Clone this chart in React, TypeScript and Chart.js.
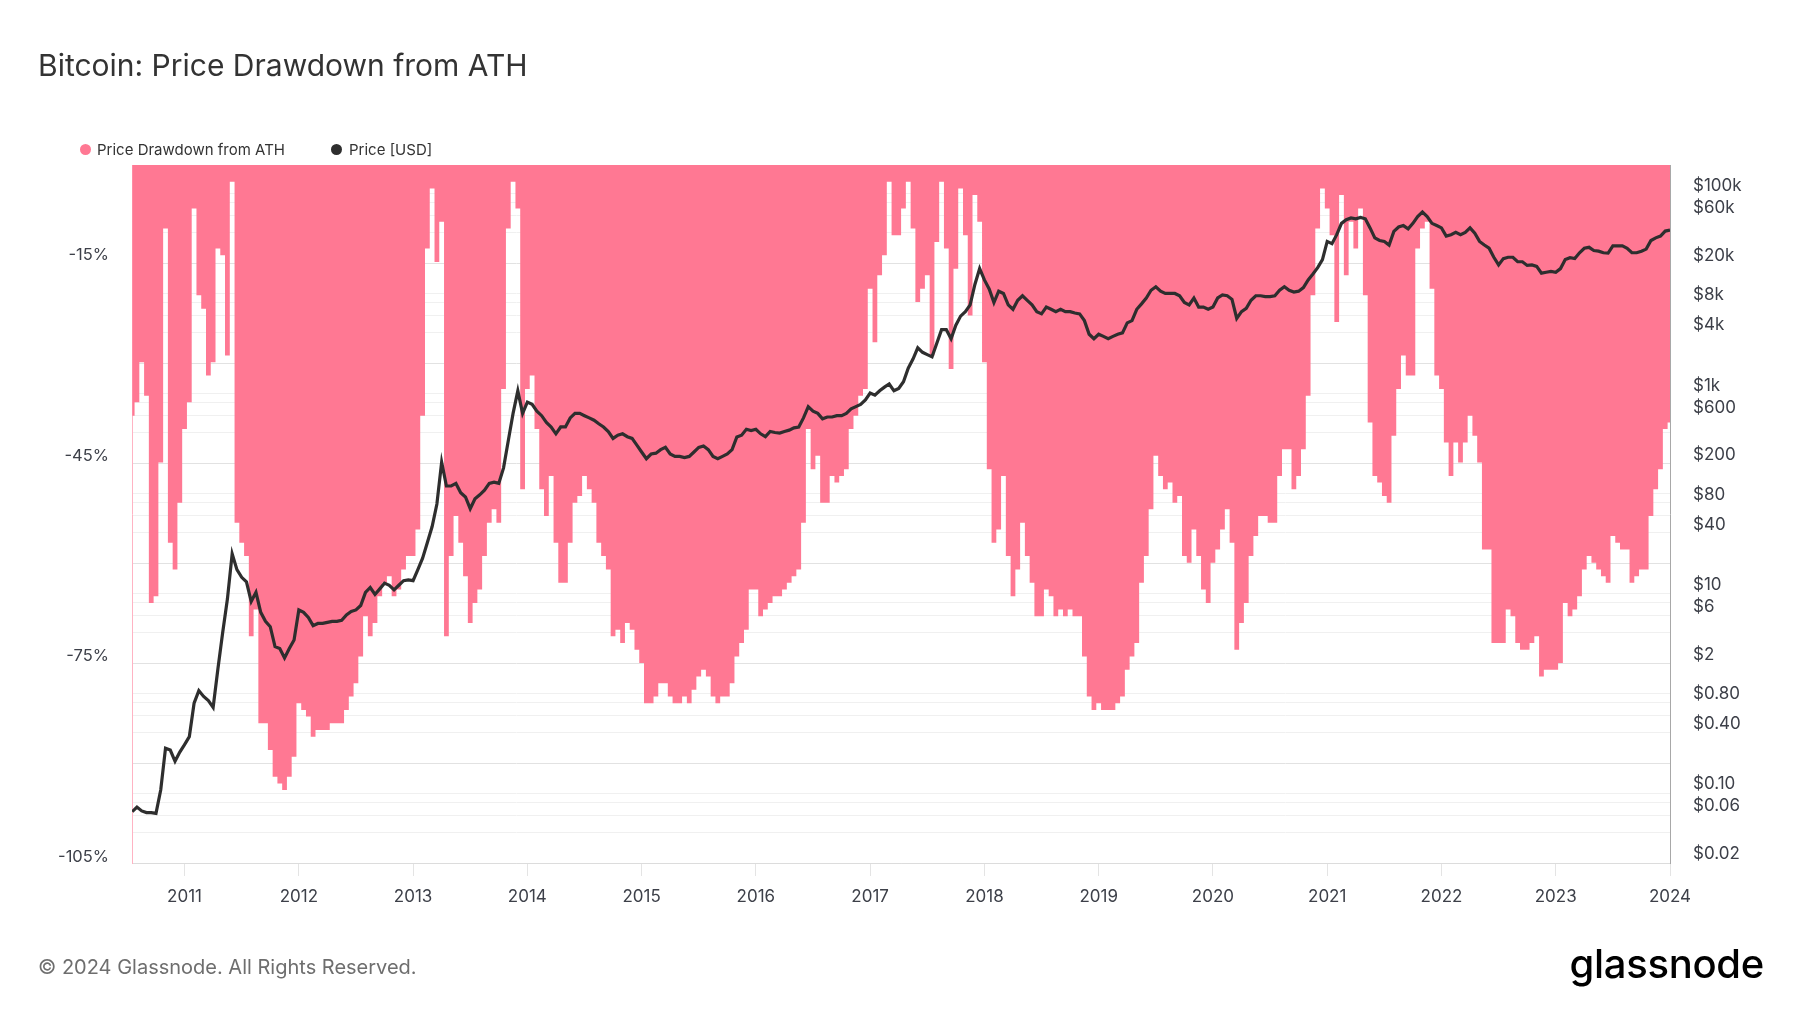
import React, { useEffect, useRef } from "react";
import { Chart, registerables } from "chart.js";

Chart.register(...registerables);

// Half-month samples: slot i of a year sits at year + i / 24.
// 2010 starts at slot 13 (late July), 2024 holds only Jan 1.
const dd2010 = [-39, -37, -31, -36, -67, -66, -46, -11, -58, -62, -52];
const dd2011 = [-41, -37, -8, -21, -23, -33, -31, -14, -15, -30, -4, -55, -58, -60, -72, -68, -85, -85, -89, -93, -94, -95, -93, -90];
const dd2012 = [-82, -83, -84, -87, -86, -86, -86, -85, -85, -85, -83, -81, -79, -75, -69, -72, -70, -66, -64, -63, -66, -65, -62, -60];
const dd2013 = [-60, -56, -39, -14, -5, -16, -10, -72, -60, -54, -58, -63, -70, -67, -65, -60, -55, -53, -55, -35, -11, -4, -8, -50];
const dd2014 = [-35, -33, -41, -50, -54, -48, -58, -64, -64, -58, -52, -51, -48, -50, -52, -58, -60, -62, -72, -71, -73, -70, -71, -74];
const dd2015 = [-76, -82, -82, -81, -79, -79, -81, -82, -82, -81, -82, -80, -78, -77, -78, -81, -82, -81, -81, -79, -75, -73, -71, -65];
const dd2016 = [-65, -69, -68, -67, -66, -66, -65, -64, -63, -62, -55, -41, -47, -45, -52, -52, -48, -49, -48, -47, -41, -39, -36, -35];
const dd2017 = [-20, -28, -18, -15, -4, -12, -12, -8, -4, -11, -22, -20, -18, -30, -13, -4, -14, -32, -17, -5, -12, -24, -6, -10];
const dd2018 = [-31, -47, -58, -56, -48, -60, -66, -62, -55, -60, -64, -69, -69, -65, -66, -69, -68, -69, -68, -69, -69, -75, -81, -83];
const dd2019 = [-82, -83, -83, -83, -82, -81, -77, -75, -73, -64, -60, -53, -45, -48, -50, -49, -52, -51, -60, -61, -56, -60, -65, -67];
const dd2020 = [-61, -59, -56, -53, -58, -74, -70, -67, -60, -57, -54, -54, -55, -55, -48, -44, -44, -50, -48, -44, -36, -21, -11, -5];
const dd2021 = [-8, -12, -25, -6, -18, -10, -14, -8, -21, -40, -48, -49, -51, -52, -42, -35, -30, -33, -33, -14, -11, -10, -20, -33];
const dd2022 = [-35, -43, -48, -43, -46, -43, -39, -42, -46, -59, -59, -73, -73, -73, -68, -69, -73, -74, -74, -73, -72, -78, -77, -77];
const dd2023 = [-77, -76, -67, -69, -68, -66, -62, -60, -61, -62, -63, -64, -57, -58, -59, -59, -64, -63, -62, -62, -54, -50, -47, -41];
const dd2024 = [-40];

const px2010 = [0.053, 0.059, 0.054, 0.052, 0.052, 0.051, 0.088, 0.23, 0.22, 0.17, 0.21];
const px2011 = [0.25, 0.3, 0.65, 0.87, 0.76, 0.69, 0.59, 1.43, 3.3, 7.2, 20.5, 14.2, 11.9, 10.7, 6.8, 8.4, 5.3, 4.3, 3.8, 2.4, 2.3, 1.85, 2.3, 2.8];
const px2012 = [5.6, 5.3, 4.7, 3.9, 4.1, 4.1, 4.2, 4.3, 4.3, 4.4, 5.0, 5.4, 5.6, 6.2, 8.4, 9.4, 8.0, 9.1, 10.4, 9.9, 8.9, 9.9, 11, 11.2];
const px2013 = [11, 14.2, 18.5, 26.6, 38.4, 64.7, 170, 98, 98, 104, 84, 76, 58, 73, 80, 89, 104, 107, 104, 149, 280, 524, 883, 524];
const px2014 = [680, 646, 552, 497, 425, 383, 327, 383, 383, 472, 524, 524, 497, 472, 448, 412, 383, 345, 294, 317, 327, 306, 294, 252];
const px2015 = [215, 184, 205, 209, 227, 239, 205, 194, 194, 189, 194, 215, 239, 247, 227, 194, 184, 194, 205, 227, 304, 317, 363, 352];
const px2016 = [363, 327, 306, 345, 337, 333, 345, 356, 375, 383, 472, 612, 552, 524, 462, 482, 482, 497, 497, 524, 581, 612, 646, 716];
const px2017 = [838, 798, 883, 960, 1033, 883, 931, 1089, 1489, 1836, 2383, 2148, 2038, 1935, 2648, 3622, 3622, 2938, 4018, 4955, 5495, 6427, 10300, 14850];
const px2018 = [11430, 9270, 6780, 8810, 8360, 6427, 5800, 7140, 7930, 7140, 6427, 5495, 5220, 6110, 5800, 5495, 5800, 5495, 5495, 5320, 5220, 4467, 3260, 2938];
const px2019 = [3260, 3100, 2938, 3100, 3260, 3365, 4236, 4467, 5800, 6577, 7530, 9000, 9770, 8810, 8360, 8360, 8360, 7930, 6780, 6427, 7530, 6110, 6110, 5800];
const px2020 = [6110, 7530, 8090, 7930, 7300, 4700, 5495, 5920, 7140, 7930, 7930, 7770, 7770, 7930, 9000, 9770, 9000, 8630, 8810, 9570, 11430, 13090, 15170, 18280];
const px2021 = [27800, 26370, 32500, 42200, 45900, 47860, 46880, 48400, 46880, 38000, 30200, 28400, 27800, 25570, 35000, 38800, 40100, 37240, 42200, 49430, 54800, 49430, 42200, 40100];
const px2022 = [38000, 31500, 32500, 34250, 32500, 34250, 38000, 33560, 27800, 25570, 23760, 19290, 16150, 18690, 19290, 19290, 17390, 17390, 15970, 16150, 15620, 13370, 13650, 13900];
const px2023 = [13650, 14850, 18280, 19080, 18690, 21400, 23760, 24270, 22550, 22200, 21400, 21200, 25060, 25060, 25060, 23760, 21400, 21400, 22200, 23280, 28400, 30200, 31500, 35300];
const px2024 = [36040];

const yearTicks = [2011, 2012, 2013, 2014, 2015, 2016, 2017, 2018, 2019, 2020, 2021, 2022, 2023, 2024];
const drawdownTicks = [-15, -45, -75, -105];
const priceTicks = [0.02, 0.06, 0.1, 0.4, 0.8, 2, 6, 10, 40, 80, 200, 600, 1000, 4000, 8000, 20000, 60000, 100000];
const gridDecades = [0.01, 0.1, 1, 10, 100, 1000, 10000];
const gridSteps = [1, 2, 3, 4, 5];

const START_YEAR = 2010;
const FIRST_SLOT = 13;
const SLOTS = 24;

const PINK = "#ff7893";
const TEXT = "#3d4049";

const toPoints = (rows: number[][]) =>
  rows.flatMap((values, k) => {
    const first = k === 0 ? FIRST_SLOT : 0;
    return values.map((y, i) => ({ x: START_YEAR + k + (first + i) / SLOTS, y }));
  });

const fmtPrice = (v: number) => {
  if (v >= 1000) return `$${v / 1000}k`;
  if (v >= 1) return `$${v}`;
  return `$${v.toFixed(2)}`;
};

const App = () => {
  const chartRef = useRef<HTMLCanvasElement>(null);

  useEffect(() => {
    if (!chartRef.current) return;

    const ddPoints = toPoints([dd2010, dd2011, dd2012, dd2013, dd2014, dd2015, dd2016, dd2017, dd2018, dd2019, dd2020, dd2021, dd2022, dd2023, dd2024]);
    const pxPoints = toPoints([px2010, px2011, px2012, px2013, px2014, px2015, px2016, px2017, px2018, px2019, px2020, px2021, px2022, px2023, px2024]);
    const gridValues = gridDecades.flatMap((d) => gridSteps.map((s) => +(d * s).toPrecision(3)));

    Chart.defaults.font.family = "Inter";

    const chart = new Chart(chartRef.current, {
      type: "line",
      data: {
        datasets: [
          {
            label: "Price [USD]",
            data: pxPoints,
            yAxisID: "yPx",
            borderColor: "#2e2e2e",
            borderWidth: 3.2,
            pointRadius: 0,
            fill: false,
            order: 0,
          },
          {
            label: "Price Drawdown from ATH",
            data: ddPoints,
            yAxisID: "yDD",
            borderWidth: 0,
            borderColor: "rgba(0,0,0,0)",
            backgroundColor: PINK,
            pointRadius: 0,
            stepped: "middle",
            fill: "end",
            order: 1,
          },
        ],
      },
      options: {
        responsive: false,
        animation: false,
        layout: { padding: { top: 165, left: 0, right: 0, bottom: 0 } },
        plugins: {
          legend: { display: false },
          title: { display: false },
          tooltip: { enabled: false },
        },
        scales: {
          x: {
            type: "linear",
            min: 2010.54,
            max: 2024.0,
            afterBuildTicks: (axis: any) => {
              axis.ticks = yearTicks.map((value) => ({ value }));
            },
            afterFit: (axis: any) => {
              axis.height = 150;
            },
            ticks: {
              autoSkip: false,
              maxRotation: 0,
              padding: 11,
              color: TEXT,
              font: { size: 17 },
              callback: (v: any) => String(v),
            },
            grid: { drawOnChartArea: false, drawTicks: true, tickLength: 13, color: "#e4e4e4" },
            border: { display: true, color: "#dcdcdc" },
          },
          yDD: {
            type: "linear",
            position: "left",
            min: -105.9,
            max: -1.5,
            afterBuildTicks: (axis: any) => {
              axis.ticks = drawdownTicks.map((value) => ({ value }));
            },
            afterFit: (axis: any) => {
              axis.width = 132;
            },
            ticks: {
              autoSkip: false,
              padding: 23,
              color: TEXT,
              font: { size: 16.5 },
              callback: (v: any) => `${v}%`,
            },
            grid: { display: false, drawTicks: false },
            border: { display: true, color: "#ffb3c3", width: 1 },
          },
          yGrid: {
            type: "logarithmic",
            position: "right",
            min: 0.01,
            max: 95500,
            afterBuildTicks: (axis: any) => {
              axis.ticks = gridValues.map((value) => ({ value }));
            },
            afterFit: (axis: any) => {
              axis.width = 0;
            },
            ticks: { display: false },
            grid: {
              drawTicks: false,
              color: (ctx: any) => {
                const v = ctx.tick ? ctx.tick.value : 0;
                return gridDecades.includes(v) ? "#e2e2e2" : "#f0f0f0";
              },
            },
            border: { display: false },
          },
          yPx: {
            type: "logarithmic",
            position: "right",
            min: 0.01622,
            max: 162400,
            z: 1,
            afterBuildTicks: (axis: any) => {
              axis.ticks = priceTicks.map((value) => ({ value }));
            },
            afterFit: (axis: any) => {
              axis.width = 130;
            },
            ticks: {
              autoSkip: false,
              padding: 23,
              color: TEXT,
              font: { size: 17 },
              callback: (v: any) => fmtPrice(Number(v)),
            },
            grid: { display: false, drawTicks: false },
            border: { display: true, color: "#a8a8a8", width: 1 },
          },
        },
      },
    } as any);

    return () => {
      chart.destroy();
    };
  }, []);

  return (
    <div
      style={{
        position: "absolute",
        left: 0,
        top: 0,
        width: 1800,
        height: 1013,
        background: "#fff",
        overflow: "hidden",
        fontFamily: "Inter, sans-serif",
      }}
    >
      <canvas ref={chartRef} width={1800} height={1013} style={{ position: "absolute", left: 0, top: 0 }} />
      <div style={{ position: "absolute", left: 38, top: 50, fontSize: 30, lineHeight: 1, color: "#333" }}>
        Bitcoin: Price Drawdown from ATH
      </div>
      <div style={{ position: "absolute", left: 80, top: 144, width: 11, height: 11, borderRadius: "50%", background: PINK }} />
      <div style={{ position: "absolute", left: 97, top: 142, fontSize: 15, lineHeight: 1, color: "#333" }}>
        Price Drawdown from ATH
      </div>
      <div style={{ position: "absolute", left: 331, top: 144, width: 11, height: 11, borderRadius: "50%", background: "#2e2e2e" }} />
      <div style={{ position: "absolute", left: 349, top: 142, fontSize: 15, lineHeight: 1, color: "#333" }}>
        Price [USD]
      </div>
      <div style={{ position: "absolute", left: 38, top: 957, fontSize: 20, lineHeight: 1, color: "#6e6e6e" }}>
        © 2024 Glassnode. All Rights Reserved.
      </div>
      <div
        style={{
          position: "absolute",
          right: 36,
          top: 944,
          fontSize: 40,
          lineHeight: 1,
          fontWeight: 500,
          letterSpacing: -0.3,
          color: "#000",
        }}
      >
        glassnode
      </div>
    </div>
  );
};

export default App;
